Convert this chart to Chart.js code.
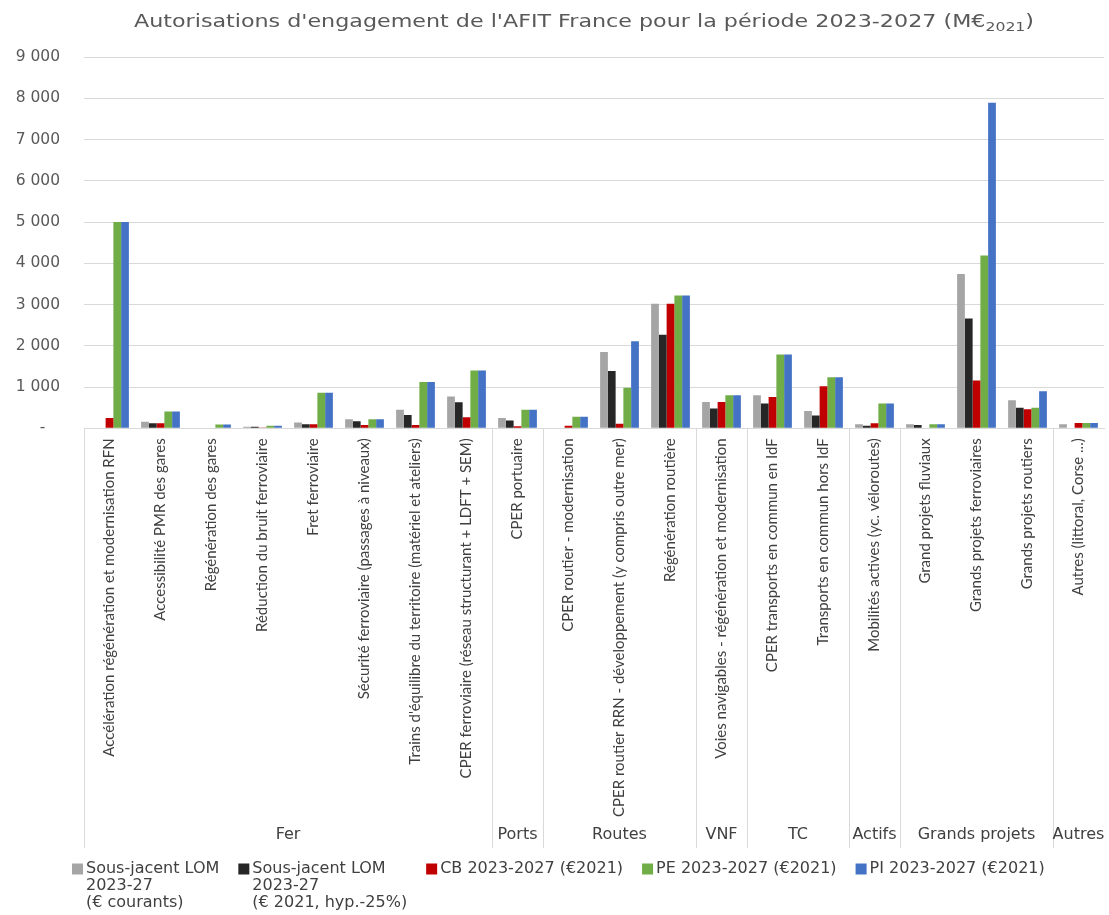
<!DOCTYPE html>
<html lang="fr">
<head>
<meta charset="utf-8">
<title>Autorisations d'engagement de l'AFIT France 2023-2027</title>
<script src="https://cdn.jsdelivr.net/npm/chart.js@4.4.1/dist/chart.umd.min.js"></script>
<style>
  html, body { margin: 0; padding: 0; background: #ffffff; }
  #wrap { width: 1109px; height: 915px; }
</style>
</head>
<body>
<div id="wrap"><canvas id="chart" width="1109" height="915"></canvas></div>
<script>
// Postes de dépense (axe des catégories)
const categories = [
  "Accélération régénération et modernisation RFN",
  "Accessibilité PMR des gares",
  "Régénération des gares",
  "Réduction du bruit ferroviaire",
  "Fret ferroviaire",
  "Sécurité ferroviaire (passages à niveaux)",
  "Trains d'équilibre du territoire (matériel et ateliers)",
  "CPER ferroviaire (réseau structurant + LDFT + SEM)",
  "CPER portuaire",
  "CPER routier - modernisation",
  "CPER routier RRN - développement (y compris outre mer)",
  "Régénération routière",
  "Voies navigables - régénération et modernisation",
  "CPER transports en commun en IdF",
  "Transports en commun hors IdF",
  "Mobilités actives (yc. véloroutes)",
  "Grand projets fluviaux",
  "Grands projets ferroviaires",
  "Grands projets routiers",
  "Autres (littoral, Corse ...)"
];

// Regroupement des postes par mode (second niveau de l'axe)
const groupNames = ["Fer", "Ports", "Routes", "VNF", "TC", "Actifs", "Grands projets", "Autres"];
const groupSizes = [8, 1, 3, 1, 2, 1, 3, 1];

// Séries (M€)
const sousJacentCourants = [0, 160, 0, 40, 140, 220, 450, 770, 250, 0, 1850, 3020, 640, 800, 420, 100, 100, 3740, 680, 100];
const sousJacent2021     = [0, 120, 0, 40, 100, 170, 320, 630, 190, 0, 1390, 2270, 480, 600, 310, 60, 80, 2660, 500, 0];
const cb2023_2027        = [250, 120, 0, 20, 100, 80, 80, 270, 50, 60, 110, 3020, 640, 760, 1020, 120, 0, 1160, 460, 130];
const pe2023_2027        = [5000, 410, 90, 60, 860, 220, 1120, 1400, 450, 280, 980, 3220, 800, 1790, 1240, 600, 100, 4190, 500, 130];
const pi2023_2027        = [5000, 410, 90, 60, 860, 220, 1120, 1400, 450, 280, 2110, 3220, 800, 1790, 1240, 600, 100, 7890, 900, 130];

// Libellés de légende (une ligne par entrée)
const seriesNames = [
  ["Sous-jacent LOM", "2023-27", "(€ courants)"],
  ["Sous-jacent LOM", "2023-27", "(€ 2021, hyp.-25%)"],
  ["CB 2023-2027 (€2021)"],
  ["PE 2023-2027 (€2021)"],
  ["PI 2023-2027 (€2021)"]
];
const seriesColors = ["#a5a5a5", "#262626", "#c00000", "#70ad47", "#4472c4"];

// Axe des valeurs
const yMax = 9000;
const yStep = 1000;

// Titre : texte principal, indice, fin
const titleMain = "Autorisations d'engagement de l'AFIT France pour la période 2023-2027 (M€";
const titleSub = "2021";
const titleTail = ")";

const seriesValues = [sousJacentCourants, sousJacent2021, cb2023_2027, pe2023_2027, pi2023_2027];

function formatThousands(v) {
  if (v === 0) return "-   ";
  return String(v).replace(/\B(?=(\d{3})+(?!\d))/g, " ");
}

// Titre centré avec indice "2021"
const titlePlugin = {
  id: "titreGraphique",
  afterDraw(chart) {
    const c = chart.ctx;
    const targetWidth = 900;
    const left = 134;
    const baseline = 27;
    c.save();
    c.font = '17px "DejaVu Sans"';
    const wMain = c.measureText(titleMain).width;
    const wTail = c.measureText(titleTail).width;
    c.font = '12px "DejaVu Sans"';
    const wSub = c.measureText(titleSub).width;
    const sx = targetWidth / (wMain + wSub + wTail);
    c.translate(left, 0);
    c.scale(sx, 1);
    c.fillStyle = "#595959";
    c.textBaseline = "alphabetic";
    c.textAlign = "left";
    c.font = '17px "DejaVu Sans"';
    c.fillText(titleMain, 0, baseline);
    c.font = '12px "DejaVu Sans"';
    c.fillText(titleSub, wMain, baseline + 4);
    c.font = '17px "DejaVu Sans"';
    c.fillText(titleTail, wMain + wSub, baseline);
    c.restore();
  }
};

// Second niveau de l'axe des catégories : séparateurs et noms de groupes
const groupAxisPlugin = {
  id: "groupesCategories",
  afterDraw(chart) {
    const c = chart.ctx;
    const xs = chart.scales.x;
    const bottom = chart.chartArea.bottom;
    const lineEnd = 848;
    const labelY = 835;
    c.save();
    c.strokeStyle = "#d9d9d9";
    c.lineWidth = 1;
    c.fillStyle = "#404040";
    c.font = '16px "DejaVu Sans"';
    c.textAlign = "center";
    c.textBaseline = "middle";
    let start = 0;
    groupSizes.forEach((size, g) => {
      const end = start + size - 1;
      const half = (xs.getPixelForValue(1) - xs.getPixelForValue(0)) / 2;
      const x0 = xs.getPixelForValue(start) - half;
      const x1 = xs.getPixelForValue(end) + half;
      const xl = Math.round(x0) + 0.5;
      c.beginPath();
      c.moveTo(xl, bottom);
      c.lineTo(xl, lineEnd);
      c.stroke();
      c.fillText(groupNames[g], (x0 + x1) / 2, labelY);
      start += size;
    });
    c.restore();
  }
};

// Légende sur plusieurs lignes
const legendPlugin = {
  id: "legendeSeries",
  afterDraw(chart) {
    const c = chart.ctx;
    const firstLine = 869;
    const lineStep = 17;
    const box = 11;
    const gap = 19;
    let x = 72;
    c.save();
    c.font = '16px "DejaVu Sans"';
    c.textBaseline = "middle";
    c.textAlign = "left";
    chart.data.datasets.forEach((ds, i) => {
      c.fillStyle = ds.backgroundColor;
      c.fillRect(x, firstLine - box / 2, box, box);
      c.fillStyle = "#404040";
      let w = 0;
      seriesNames[i].forEach((line, k) => {
        c.fillText(line, x + box + 3, firstLine + k * lineStep);
        w = Math.max(w, c.measureText(line).width);
      });
      x += box + 3 + w + gap;
    });
    c.restore();
  }
};

const ctx = document.getElementById("chart").getContext("2d");
new Chart(ctx, {
  type: "bar",
  data: {
    labels: categories,
    datasets: seriesValues.map((values, i) => ({
      label: seriesNames[i].join(" "),
      data: values,
      backgroundColor: seriesColors[i],
      borderWidth: 0,
      barPercentage: 1,
      categoryPercentage: 0.76
    }))
  },
  options: {
    responsive: false,
    animation: false,
    layout: { padding: { top: 57, left: 0, right: 5, bottom: 0 } },
    plugins: {
      legend: { display: false },
      title: { display: false },
      tooltip: { enabled: false }
    },
    scales: {
      x: {
        grid: { display: false, drawTicks: false },
        border: { display: true, color: "#d9d9d9" },
        ticks: {
          autoSkip: false,
          minRotation: 90,
          maxRotation: 90,
          padding: 10,
          color: "#404040",
          font: { family: "Lato", size: 15 }
        },
        afterFit(scale) { scale.height = 915 - 428.3; }
      },
      y: {
        min: 0,
        max: yMax,
        grid: { color: "#d9d9d9", drawTicks: false },
        border: { display: false },
        ticks: {
          stepSize: yStep,
          padding: 24,
          color: "#595959",
          font: { family: "DejaVu Sans", size: 15.5 },
          callback: (v) => formatThousands(v)
        },
        afterFit(scale) { scale.width = 84; }
      }
    }
  },
  plugins: [titlePlugin, groupAxisPlugin, legendPlugin]
});
</script>
</body>
</html>
